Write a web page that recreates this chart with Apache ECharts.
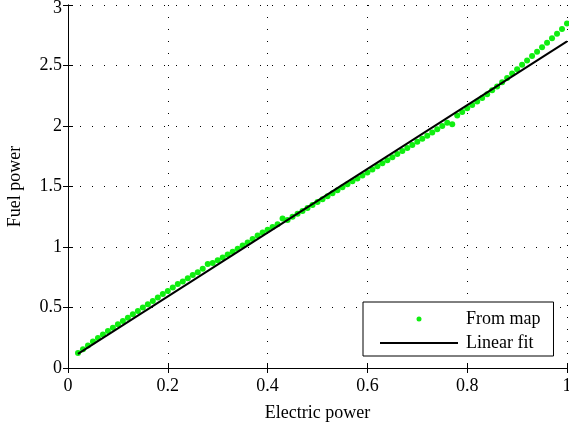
<!DOCTYPE html>
<html>
<head>
	<meta charset="utf-8">
	<title>chart</title>
	<style>
		html, body { margin: 0; padding: 0; overflow: hidden; background: #fff; }
		#graph { position: absolute; left: 0; top: 0; width: 569px; height: 427px; }
	</style>
</head>
<body>
<div id="graph"></div>
<script type="text/javascript" src="https://cdnjs.cloudflare.com/ajax/libs/echarts/6.0.0/echarts.min.js"></script>
<script type="text/javascript">
// electric power (x) of the map points
const mapX = [
    0.02, 0.03, 0.04, 0.05, 0.06, 0.07, 0.08, 0.09, 0.10, 0.11,
    0.12, 0.13, 0.14, 0.15, 0.16, 0.17, 0.18, 0.19, 0.20, 0.21,
    0.22, 0.23, 0.24, 0.25, 0.26, 0.27, 0.28, 0.29, 0.30, 0.31,
    0.32, 0.33, 0.34, 0.35, 0.36, 0.37, 0.38, 0.39, 0.40, 0.41,
    0.42, 0.43, 0.44, 0.45, 0.46, 0.47, 0.48, 0.49, 0.50, 0.51,
    0.52, 0.53, 0.54, 0.55, 0.56, 0.57, 0.58, 0.59, 0.60, 0.61,
    0.62, 0.63, 0.64, 0.65, 0.66, 0.67, 0.68, 0.69, 0.70, 0.71,
    0.72, 0.73, 0.74, 0.75, 0.76, 0.77, 0.78, 0.79, 0.80, 0.81,
    0.82, 0.83, 0.84, 0.85, 0.86, 0.87, 0.88, 0.89, 0.90, 0.91,
    0.92, 0.93, 0.94, 0.95, 0.96, 0.97, 0.98, 0.99, 1.00
];
// fuel power (y) of the map points
const mapY = [
    0.125, 0.155, 0.186, 0.218, 0.247, 0.277, 0.305, 0.333, 0.362, 0.389,
    0.416, 0.444, 0.471, 0.499, 0.527, 0.553, 0.582, 0.611, 0.636, 0.666,
    0.694, 0.714, 0.742, 0.769, 0.792, 0.820, 0.860, 0.868, 0.891, 0.914,
    0.938, 0.961, 0.985, 1.013, 1.038, 1.066, 1.096, 1.120, 1.142, 1.165,
    1.187, 1.235, 1.224, 1.250, 1.274, 1.298, 1.322, 1.347, 1.371, 1.395,
    1.420, 1.444, 1.469, 1.494, 1.518, 1.543, 1.567, 1.591, 1.616, 1.641,
    1.668, 1.693, 1.717, 1.742, 1.768, 1.793, 1.819, 1.844, 1.869, 1.895,
    1.920, 1.946, 1.973, 2.000, 2.027, 2.014, 2.086, 2.116, 2.146, 2.174,
    2.202, 2.232, 2.263, 2.295, 2.327, 2.361, 2.397, 2.433, 2.469, 2.506,
    2.542, 2.578, 2.614, 2.650, 2.688, 2.725, 2.762, 2.802, 2.848
];
// linear fit end points
const fitX = [0.02, 1.00];
const fitY = [0.117, 2.700];

const seriesNames = ['From map', 'Linear fit'];

(function () {
    let chart = echarts.init(document.getElementById('graph'));
    const font = 'Liberation Serif';

    let axisCommon = {
        axisLine: { show: true, lineStyle: { color: '#000', width: 1 } },
        axisTick: { show: true, inside: true, length: 5, lineStyle: { color: '#000' } },
        axisLabel: { color: '#000', fontFamily: font, fontSize: 18 },
        splitLine: { show: false }
    };
    let gridLine = { show: true, lineStyle: { color: '#000', width: 1, type: [1, 11] } };

    chart.setOption({
        animation: false,
        backgroundColor: '#fff',
        grid: { left: 68, right: 2, top: 5, bottom: 59, outerBoundsMode: 'none' },
        legend: {
            orient: 'vertical',
            left: 363,
            top: 302,
            padding: [8, 13, 4, 17],
            itemWidth: 81,
            itemHeight: 14,
            itemGap: 6,
            borderColor: '#000',
            borderWidth: 1,
            borderRadius: 0,
            backgroundColor: '#fff',
            textStyle: { color: '#000', fontFamily: font, fontSize: 18 },
            data: [
                { name: seriesNames[0], icon: 'path://M0,0 M81,14 M36.5,7 a2.5,2.5 0 1,0 5,0 a2.5,2.5 0 1,0 -5,0' },
                { name: seriesNames[1], icon: 'path://M0,0 M81,14 M0,6 L78,6 L78,8 L0,8 Z' }
            ]
        },
        xAxis: [
            Object.assign({}, axisCommon, {
                type: 'value', min: 0, max: 1, interval: 0.2,
                axisLabel: { color: '#000', fontFamily: font, fontSize: 18, margin: 9 },
                name: 'Electric power', nameLocation: 'middle', nameGap: 36,
                nameTextStyle: { color: '#000', fontFamily: font, fontSize: 18 },
                splitLine: gridLine
            }),
            Object.assign({}, axisCommon, {
                type: 'value', min: 0, max: 1, interval: 0.2, position: 'top',
                axisLabel: { show: false }
            })
        ],
        yAxis: [
            Object.assign({}, axisCommon, {
                type: 'value', min: 0, max: 3, interval: 0.5,
                axisLabel: {
                    color: '#000', fontFamily: font, fontSize: 18, margin: 6,
                    // top label sits just inside the window, as in the original
                    formatter: v => v === 3 ? '{top|' + v + '}' : String(v),
                    rich: { top: { color: '#000', fontFamily: font, fontSize: 18, padding: [7, 0, 0, 0] } }
                },
                name: 'Fuel power', nameLocation: 'middle', nameGap: 44,
                nameTextStyle: { color: '#000', fontFamily: font, fontSize: 18 },
                splitLine: gridLine
            }),
            Object.assign({}, axisCommon, {
                type: 'value', min: 0, max: 3, interval: 0.5, position: 'right',
                axisLabel: { show: false }
            })
        ],
        series: [
            {
                name: seriesNames[0],
                type: 'scatter',
                symbol: 'circle',
                symbolSize: 6,
                itemStyle: { color: '#10ee10', opacity: 1 },
                data: mapX.map((x, i) => [x, mapY[i]])
            },
            {
                name: seriesNames[1],
                type: 'line',
                showSymbol: false,
                symbol: 'none',
                lineStyle: { color: '#000', width: 2 },
                itemStyle: { color: '#000' },
                data: fitX.map((x, i) => [x, fitY[i]])
            }
        ]
    });
})();
</script>
</body>
</html>
